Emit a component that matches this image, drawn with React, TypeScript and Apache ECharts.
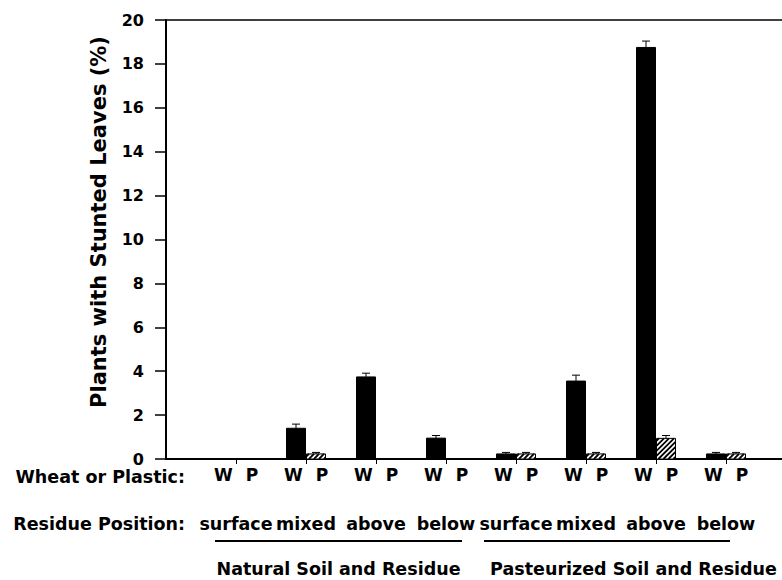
import React, { useEffect, useRef } from 'react';
import * as echarts from 'echarts';

// ---- data ----
const residuePositions = ['surface', 'mixed', 'above', 'below', 'surface', 'mixed', 'above', 'below'];
const soilGroups = ['Natural Soil and Residue', 'Pasteurized Soil and Residue'];
const wheatValues = [0, 1.4, 3.74, 0.95, 0.23, 3.55, 18.75, 0.23];
const wheatErrors = [0, 0.19, 0.17, 0.12, 0.07, 0.27, 0.29, 0.07];
const plasticValues = [0, 0.23, 0, 0, 0.23, 0.23, 0.94, 0.23];
const plasticErrors = [0, 0.07, 0, 0, 0.07, 0.07, 0.13, 0.07];
const yMin = 0;
const yMax = 20;
const yInterval = 2;

const FONT = 'DejaVu Sans';
const groupIdx = residuePositions.map((_, i) => i);

function makeRender(kind: 'W' | 'P') {
  return (params: any, api: any) => {
    const idx = api.value(0);
    const v = api.value(1);
    const e = api.value(2);
    if (!v) return { type: 'group', children: [] };
    const base = api.coord([idx, 0]);
    const top = api.coord([idx, v]);
    const errTop = api.coord([idx, v + e]);
    const cx = base[0];
    const y0 = base[1];
    const yTop = top[1];
    const w = 19;
    const x0 = kind === 'W' ? cx - 19.5 : cx + 0.5;
    const children: any[] = [];
    children.push({
      type: 'rect',
      shape: { x: x0, y: yTop, width: w, height: y0 - yTop },
      style: { fill: kind === 'W' ? '#000' : '#fff', stroke: '#000', lineWidth: 1 },
    });
    if (kind === 'P') {
      const x1 = x0 + w;
      const step = 5;
      for (let c = x0 + yTop + step / 2; c < x1 + y0; c += step) {
        const xa = Math.max(x0, c - y0);
        const xb = Math.min(x1, c - yTop);
        if (xb > xa) {
          children.push({
            type: 'line',
            shape: { x1: xa, y1: c - xa, x2: xb, y2: c - xb },
            style: { stroke: '#000', lineWidth: 1.8 },
          });
        }
      }
    }
    const mid = x0 + w / 2;
    children.push({
      type: 'line',
      shape: { x1: mid, y1: yTop, x2: mid, y2: errTop[1] },
      style: { stroke: '#000', lineWidth: 1 },
    });
    children.push({
      type: 'line',
      shape: { x1: mid - 4, y1: errTop[1], x2: mid + 4, y2: errTop[1] },
      style: { stroke: '#000', lineWidth: 1 },
    });
    return { type: 'group', children };
  };
}

export default function App() {
  const ref = useRef<HTMLDivElement>(null);
  useEffect(() => {
    if (!ref.current) return;
    const chart = echarts.init(ref.current, null, { renderer: 'svg' });
    const xCommon = { type: 'value', min: -1, max: 7.8, splitLine: { show: false } };
    chart.setOption({
      animation: false,
      backgroundColor: '#fff',
      grid: { left: 166, right: 0, top: 20, bottom: 121 },
      xAxis: [
        {
          ...xCommon,
          position: 'bottom',
          axisLine: { show: true, onZero: false, lineStyle: { color: '#000', width: 2 } },
          axisTick: { show: true, customValues: groupIdx, length: 5, lineStyle: { color: '#000', width: 1 } },
          axisLabel: {
            show: true,
            customValues: groupIdx,
            margin: 7,
            formatter: () => '{w|W}{g| }{p|P}',
            rich: {
              w: { fontFamily: FONT, fontWeight: 'bold', fontSize: 17, color: '#000' },
              g: { width: 13, fontSize: 17 },
              p: { fontFamily: FONT, fontWeight: 'bold', fontSize: 17, color: '#000' },
            },
          },
        },
        {
          ...xCommon,
          position: 'bottom',
          axisLine: { show: false, onZero: false },
          axisTick: { show: false },
          axisLabel: {
            show: true,
            customValues: groupIdx,
            margin: 56,
            formatter: (v: number) => residuePositions[Math.round(v)] ?? '',
            fontFamily: FONT,
            fontWeight: 'bold',
            fontSize: 17.5,
            color: '#000',
          },
        },
        {
          ...xCommon,
          position: 'top',
          axisLine: { show: true, onZero: false, lineStyle: { color: '#000', width: 1.5 } },
          axisTick: { show: false },
          axisLabel: { show: false },
        },
      ],
      yAxis: {
        type: 'value',
        min: yMin,
        max: yMax,
        interval: yInterval,
        splitLine: { show: false },
        axisLine: { show: true, onZero: false, lineStyle: { color: '#000', width: 2 } },
        axisTick: { show: true, length: 11, lineStyle: { color: '#000', width: 1.5 } },
        axisLabel: {
          fontFamily: FONT,
          fontWeight: 'bold',
          fontSize: 16,
          color: '#000',
          margin: 22,
          padding: [0, 0, 6, 0],
        },
      },
      graphic: [
        {
          type: 'text',
          x: 99,
          y: 222,
          rotation: Math.PI / 2,
          style: {
            text: 'Plants with Stunted Leaves (%)',
            fontFamily: FONT,
            fontWeight: 'bold',
            fontSize: 21,
            fill: '#000',
            align: 'center',
            verticalAlign: 'middle',
          },
        },
        {
          type: 'text',
          x: 185,
          y: 477,
          style: {
            text: 'Wheat or Plastic:',
            fontFamily: FONT,
            fontWeight: 'bold',
            fontSize: 17.5,
            fill: '#000',
            align: 'right',
            verticalAlign: 'middle',
          },
        },
        {
          type: 'text',
          x: 185,
          y: 524,
          style: {
            text: 'Residue Position:',
            fontFamily: FONT,
            fontWeight: 'bold',
            fontSize: 17.5,
            fill: '#000',
            align: 'right',
            verticalAlign: 'middle',
          },
        },
        { type: 'line', shape: { x1: 215, y1: 541, x2: 462, y2: 541 }, style: { stroke: '#000', lineWidth: 2 } },
        { type: 'line', shape: { x1: 484, y1: 541, x2: 730, y2: 541 }, style: { stroke: '#000', lineWidth: 2 } },
        {
          type: 'text',
          x: 338.5,
          y: 569,
          style: {
            text: soilGroups[0],
            fontFamily: FONT,
            fontWeight: 'bold',
            fontSize: 17.5,
            fill: '#000',
            align: 'center',
            verticalAlign: 'middle',
          },
        },
        {
          type: 'text',
          x: 633.5,
          y: 569,
          style: {
            text: soilGroups[1],
            fontFamily: FONT,
            fontWeight: 'bold',
            fontSize: 17.5,
            fill: '#000',
            align: 'center',
            verticalAlign: 'middle',
          },
        },
      ],
      series: [
        {
          type: 'custom',
          name: 'Wheat',
          xAxisIndex: 0,
          yAxisIndex: 0,
          renderItem: makeRender('W'),
          encode: { x: 0, y: 1 },
          data: wheatValues.map((v, i) => [i, v, wheatErrors[i]]),
        },
        {
          type: 'custom',
          name: 'Plastic',
          xAxisIndex: 0,
          yAxisIndex: 0,
          renderItem: makeRender('P'),
          encode: { x: 0, y: 1 },
          data: plasticValues.map((v, i) => [i, v, plasticErrors[i]]),
        },
      ],
    });
    return () => chart.dispose();
  }, []);
  return <div ref={ref} style={{ position: 'absolute', left: 0, top: 0, width: 782, height: 580 }} />;
}
